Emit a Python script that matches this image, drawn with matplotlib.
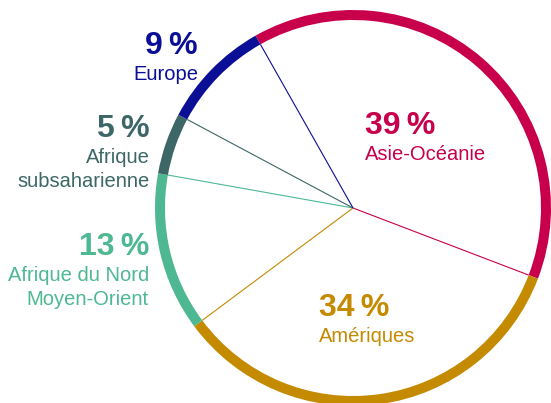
import numpy as np
import matplotlib.pyplot as plt

plt.rcParams['font.family'] = ['Liberation Sans', 'DejaVu Sans']

# Data
regions = ['Asie-Océanie', 'Amériques', 'Afrique du Nord\nMoyen-Orient',
           'Afrique\nsubsaharienne', 'Europe']
shares = [39, 34, 13, 5, 9]
colors = ['#C8004B', '#C48A00', '#4DB891', '#3D6767', '#0A0F96']

W, H = 551, 403
cx, cy = 353, H - 208      # centre (y measured from bottom)
R = 198                     # outer radius of the ring
ring = 10
start = 29.5                # first boundary, degrees left of 12 o'clock

fig = plt.figure(figsize=(W / 100, H / 100), dpi=100)
ax = fig.add_axes([0, 0, 1, 1])

ax.pie(shares, colors=colors, startangle=90 + start, counterclock=False,
       radius=R, center=(cx, cy), wedgeprops=dict(width=ring, linewidth=0))

# thin radial lines at the end of every slice (clockwise)
ends = -start + np.cumsum(shares) / 100 * 360
for a, c in zip(ends, colors):
    t = np.radians(90 - a)
    r = R - ring
    ax.plot([cx, cx + r * np.cos(t)], [cy, cy + r * np.sin(t)],
            color=c, linewidth=0.8, solid_capstyle='butt')

# labels: (x, y of percent baseline, alignment) in image pixels
label_pos = [(365, 134, 'left'), (319, 316, 'left'), (149, 255, 'right'),
             (150, 137, 'right'), (198, 54, 'right')]
for name, s, c, (x, y, ha) in zip(regions, shares, colors, label_pos):
    ax.text(x, H - y, f'{s}\u2009%', color=c, fontsize=23, fontweight='bold',
            ha=ha, va='baseline')
    for i, line in enumerate(name.split('\n')):
        ax.text(x, H - y - 26 - i * 24, line, color=c, fontsize=14.5,
                ha=ha, va='baseline')

ax.set_xlim(0, W)
ax.set_ylim(0, H)
ax.set_aspect('auto')
ax.axis('off')

plt.savefig('out.png', dpi=100)
